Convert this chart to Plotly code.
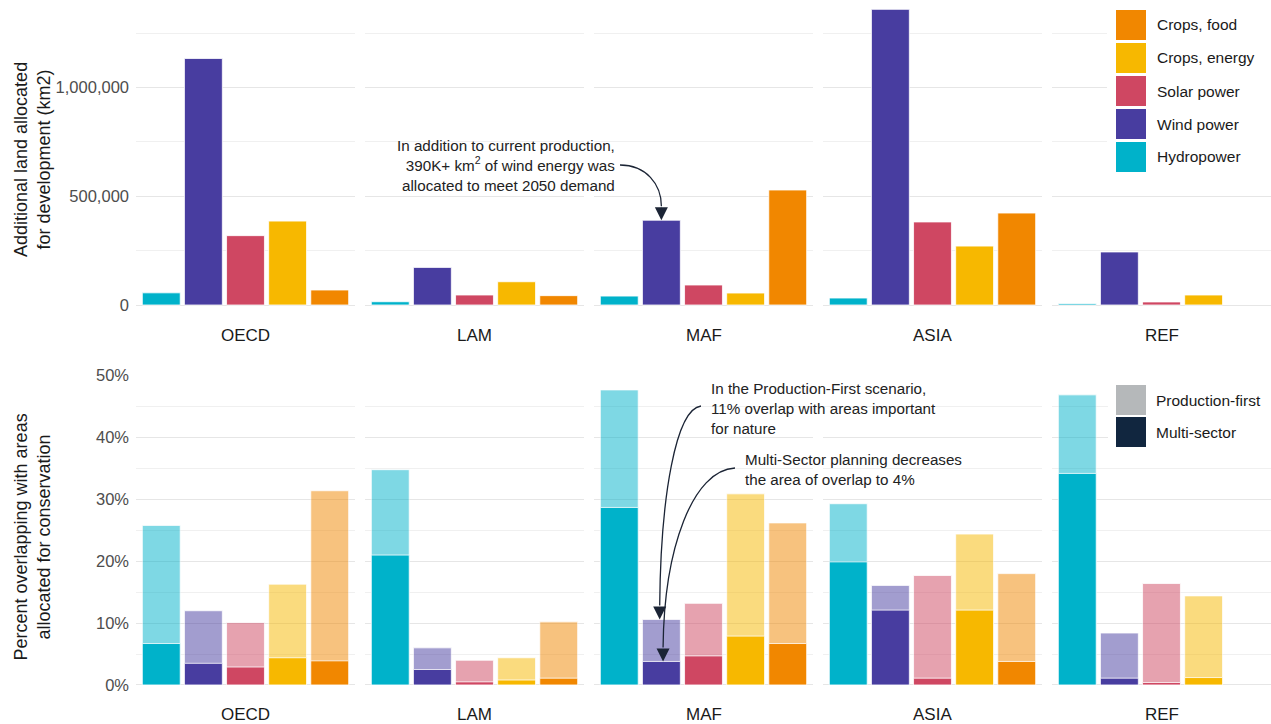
import plotly.graph_objects as go

# ---- data -------------------------------------------------------------
regions = ["OECD", "LAM", "MAF", "ASIA", "REF"]
sectors = ["Hydropower", "Wind power", "Solar power", "Crops, energy", "Crops, food"]

# additional land allocated for development (km2), per region
land_hydro = [56000, 15000, 41000, 32000, 6000]
land_wind = [1134000, 173000, 390000, 1360000, 244000]
land_solar = [319000, 46000, 92000, 382000, 14000]
land_energy = [386000, 107000, 55000, 271000, 46000]
land_food = [69000, 43000, 529000, 423000, None]

# share overlapping with conservation priority areas (%), Production-first
pf_hydro = [25.8, 34.8, 47.7, 29.3, 46.9]
pf_wind = [12.0, 6.0, 10.6, 16.1, 8.4]
pf_solar = [10.1, 4.0, 13.2, 17.7, 16.4]
pf_energy = [16.3, 4.4, 30.9, 24.4, 14.4]
pf_food = [31.4, 10.2, 26.2, 18.0, None]

# same, Multi-sector planning
ms_hydro = [6.7, 21.0, 28.7, 19.9, 34.2]
ms_wind = [3.5, 2.5, 3.8, 12.1, 1.1]
ms_solar = [2.9, 0.5, 4.7, 1.1, 0.4]
ms_energy = [4.4, 0.8, 7.9, 12.1, 1.2]
ms_food = [3.9, 1.1, 6.7, 3.8, None]

sector_colors = ["#00b2ca", "#483da0", "#cf4762", "#f7b800", "#f18700"]
scenario_names = ["Production-first", "Multi-sector"]
scenario_colors = ["#b5b8ba", "#11263f"]

land = [land_hydro, land_wind, land_solar, land_energy, land_food]
pf = [pf_hydro, pf_wind, pf_solar, pf_energy, pf_food]
ms = [ms_hydro, ms_wind, ms_solar, ms_energy, ms_food]

# ---- layout geometry (pixels) ----------------------------------------
W, H = 1271, 724
COL_X0, COL_STEP, COL_W = 136, 229, 219
X_RANGE = [0.4, 5.6]
ROW_PX = [(0, 320), (375, 700)]
ROW_RANGE = [[-69000, 1403000], [-0.0243, 0.5011]]
FONT = "Liberation Sans, Arial, sans-serif"


def px_x(col, xv):
    return COL_X0 + COL_STEP * col + (xv - X_RANGE[0]) / (X_RANGE[1] - X_RANGE[0]) * COL_W


def px_y(row, yv):
    top, bottom = ROW_PX[row]
    lo, hi = ROW_RANGE[row]
    return bottom - (yv - lo) / (hi - lo) * (bottom - top)


def pap(X, Y):
    return X / W, 1 - Y / H


def ax_id(row, col):
    return row * 5 + col + 1


def ax_name(i, letter):
    return letter if i == 1 else f"{letter}{i}"


fig = go.Figure()
xpos = [1, 2, 3, 4, 5]

for col, reg in enumerate(regions):
    # top row: land allocated
    i = ax_id(0, col)
    fig.add_trace(go.Bar(
        x=xpos, y=[land[s][col] for s in range(5)],
        marker=dict(color=sector_colors, line=dict(color="white", width=0.8)),
        width=0.9, xaxis=ax_name(i, "x"), yaxis=ax_name(i, "y"),
        showlegend=False, name=reg,
    ))
    # bottom row: overlap, Production-first (translucent) behind Multi-sector
    j = ax_id(1, col)
    fig.add_trace(go.Bar(
        x=xpos, y=[None if pf[s][col] is None else pf[s][col] / 100 for s in range(5)],
        marker=dict(color=sector_colors, opacity=0.5, line=dict(color="white", width=0.8)),
        width=0.9, xaxis=ax_name(j, "x"), yaxis=ax_name(j, "y"),
        showlegend=False, name=reg + " " + scenario_names[0],
    ))
    fig.add_trace(go.Bar(
        x=xpos, y=[None if ms[s][col] is None else ms[s][col] / 100 for s in range(5)],
        marker=dict(color=sector_colors, line=dict(color="white", width=0.8)),
        width=0.9, xaxis=ax_name(j, "x"), yaxis=ax_name(j, "y"),
        showlegend=False, name=reg + " " + scenario_names[1],
    ))

layout = dict(
    width=W, height=H, autosize=False,
    margin=dict(l=0, r=0, t=0, b=0, pad=0, autoexpand=False),
    paper_bgcolor="white", plot_bgcolor="white",
    barmode="overlay", font=dict(family=FONT, size=16, color="#4d4d4d"),
    showlegend=False,
)

for row in range(2):
    top, bottom = ROW_PX[row]
    for col in range(5):
        i = ax_id(row, col)
        x0 = COL_X0 + COL_STEP * col
        layout[ax_name(i, "xaxis")] = dict(
            domain=[x0 / W, min(1.0, (x0 + COL_W) / W)], range=X_RANGE,
            showgrid=False, zeroline=False, showticklabels=False, automargin=False,
            anchor=ax_name(i, "y"), fixedrange=True,
        )
        yax = dict(
            domain=[1 - bottom / H, 1 - top / H], range=ROW_RANGE[row],
            anchor=ax_name(i, "x"), zeroline=False, showline=False, automargin=False,
            gridcolor="#e6e6e6", gridwidth=1.2, showticklabels=(col == 0),
            ticks="", ticklabelstandoff=6,
            tickfont=dict(size=16.5, color="#4d4d4d"), fixedrange=True,
        )
        if row == 0:
            yax.update(tickvals=[0, 500000, 1000000],
                       ticktext=["0", "500,000", "1,000,000"],
                       minor=dict(tickvals=[250000, 750000, 1250000], showgrid=True,
                                  gridcolor="#f0f0f0", gridwidth=1))
        else:
            yax.update(tickvals=[0, 0.1, 0.2, 0.3, 0.4, 0.5],
                       ticktext=["0%", "10%", "20%", "30%", "40%", "50%"],
                       minor=dict(tickvals=[0.05, 0.15, 0.25, 0.35, 0.45], showgrid=True,
                                  gridcolor="#f0f0f0", gridwidth=1))
        layout[ax_name(i, "yaxis")] = yax

fig.update_layout(**layout)

annotations = []
shapes = []

# facet strip labels under each panel
for row, ypx in enumerate([335, 714]):
    for col, reg in enumerate(regions):
        x, y = pap(COL_X0 + COL_STEP * col + COL_W / 2, ypx)
        annotations.append(dict(x=x, y=y, xref="paper", yref="paper", text=reg,
                                xanchor="center", yanchor="middle",
                                showarrow=False, font=dict(size=17, color="#1a1a1a")))

# y-axis titles
for row, txt in enumerate(["Additional land allocated<br>for development (km2)",
                           "Percent overlapping with areas<br>allocated for conservation"]):
    top, bottom = ROW_PX[row]
    x, y = pap(32, (top + bottom) / 2)
    annotations.append(dict(x=x, y=y, xref="paper", yref="paper", text=txt,
                            xanchor="center", yanchor="middle",
                            textangle=-90, showarrow=False,
                            font=dict(size=18, color="#1a1a1a")))

# legends (white panel + swatches)
for (X0, Y0, X1, Y1) in [(1107, 0, W, 180), (1108, 378, W, 458)]:
    a, b = pap(X0, Y0)
    c, d = pap(X1, Y1)
    shapes.append(dict(type="rect", xref="paper", yref="paper", x0=a, y0=d, x1=c, y1=b,
                       fillcolor="white", line=dict(width=0), layer="above"))

legend_top = list(zip(sectors, sector_colors))[::-1]
for k, (name, colr) in enumerate(legend_top):
    ytop = 10 + 33 * k
    a, b = pap(1116, ytop)
    c, d = pap(1146, ytop + 30)
    shapes.append(dict(type="rect", xref="paper", yref="paper", x0=a, y0=d, x1=c, y1=b,
                       fillcolor=colr, line=dict(width=0), layer="above"))
    x, y = pap(1155, ytop + 15)
    annotations.append(dict(x=x, y=y, xref="paper", yref="paper", text=name,
                            xanchor="left", yanchor="middle", showarrow=False,
                            font=dict(size=15.5, color="#1a1a1a")))

for k, (name, colr) in enumerate(zip(scenario_names, scenario_colors)):
    ytop = 385 + 32 * k
    a, b = pap(1116, ytop)
    c, d = pap(1146, ytop + 30)
    shapes.append(dict(type="rect", xref="paper", yref="paper", x0=a, y0=d, x1=c, y1=b,
                       fillcolor=colr, line=dict(width=0), layer="above"))
    x, y = pap(1154, ytop + 15)
    annotations.append(dict(x=x, y=y, xref="paper", yref="paper", text=name,
                            xanchor="left", yanchor="middle", showarrow=False,
                            font=dict(size=15.5, color="#1a1a1a")))

# ---- callouts with curved connectors ---------------------------------
ARROW = "#1b2435"
TAIL = 14


def callout(row, col, xv, yv, start, c1, c2):
    """Curved connector from a text edge to a bar top, ending in an arrowhead."""
    tx, ty = px_x(col, xv), px_y(row, yv)
    tail = (tx, ty - TAIL)
    c2 = (tx + c2[0], tail[1] + c2[1])
    pts = [pap(*start), pap(*c1), pap(*c2), pap(*tail)]
    path = "M {},{} C {},{} {},{} {},{}".format(*[v for p in pts for v in p])
    shapes.append(dict(type="path", path=path, xref="paper", yref="paper",
                       line=dict(color=ARROW, width=1.3), layer="above"))
    i = ax_id(row, col)
    annotations.append(dict(x=xv, y=yv, xref=ax_name(i, "x"), yref=ax_name(i, "y"),
                            ax=0, ay=-TAIL, text="", showarrow=True,
                            arrowhead=2, arrowsize=2, arrowwidth=1.3,
                            arrowcolor=ARROW))


NOTE_FONT = dict(size=15.2, color="#222222")
maf = regions.index("MAF")
x, y = pap(617, 165)
annotations.append(dict(
    x=x, y=y, xref="paper", yref="paper", xanchor="right", yanchor="middle",
    align="right", showarrow=False, font=NOTE_FONT,
    text="In addition to current production,<br> 390K+ km<sup>2</sup> of wind energy was<br>"
         "allocated to meet 2050 demand"))
callout(0, maf, 2, land_wind[maf], (620, 165), (646, 165), (0, -22))

x, y = pap(709, 408)
annotations.append(dict(
    x=x, y=y, xref="paper", yref="paper", xanchor="left", yanchor="middle",
    align="left", showarrow=False, font=NOTE_FONT,
    text="In the Production-First scenario,<br>11% overlap with areas important<br>for nature"))
callout(1, maf, 1.96, pf_wind[maf] / 100, (701, 406), (676, 409), (1, -110))

x, y = pap(743, 470)
annotations.append(dict(
    x=x, y=y, xref="paper", yref="paper", xanchor="left", yanchor="middle",
    align="left", showarrow=False, font=NOTE_FONT,
    text="Multi-Sector planning decreases<br>the area of overlap to 4%"))
callout(1, maf, 2.04, ms_wind[maf] / 100, (735, 468), (693, 470), (1, -100))

fig.update_layout(annotations=annotations, shapes=shapes)
fig.write_html("out.html")
